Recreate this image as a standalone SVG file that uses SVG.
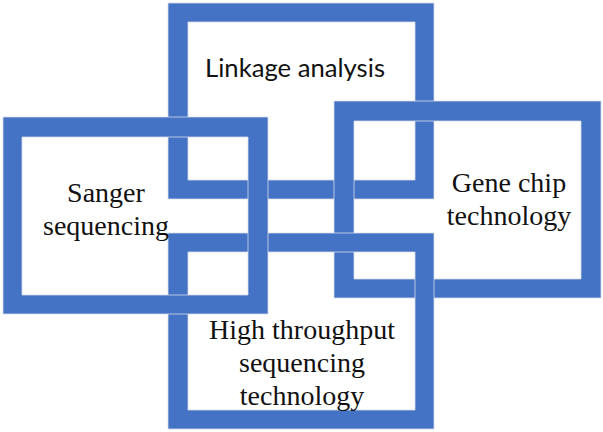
<svg xmlns="http://www.w3.org/2000/svg" width="603" height="432" viewBox="0 0 603 432">
<style>
.frame{fill:#4472C4;fill-rule:evenodd;stroke:#d6dcea;stroke-width:0.8}
.serif{font-family:"Liberation Serif","Times New Roman",serif;font-size:28px;fill:#111;text-anchor:middle}
.sans{font-family:Lato,"Open Sans","Liberation Sans",sans-serif;font-size:25px;fill:#111;text-anchor:middle}
</style>
<rect width="603" height="432" fill="#fff"/>
<g id="linkage">
<path class="frame" d="M168,3H434V199H168Z M188,22H415V180H188Z"/>
<text class="sans" x="295" y="77" textLength="180" lengthAdjust="spacingAndGlyphs">Linkage analysis</text>
</g>
<g id="gene-chip">
<path class="frame" d="M334,101H601V298H334Z M354,121H581V279H354Z"/>
<text class="serif" x="509" y="192">Gene chip</text>
<text class="serif" x="509" y="225">technology</text>
</g>
<g id="high-throughput">
<path class="frame" d="M168,233H434V429H168Z M188,252H415V410H188Z"/>
<text class="serif" x="302" y="339">High throughput</text>
<text class="serif" x="302" y="372">sequencing</text>
<text class="serif" x="302" y="405">technology</text>
</g>
<g id="sanger">
<path class="frame" d="M3,117H268V314H3Z M22,137H248V295H22Z"/>
<text class="serif" x="106" y="202">Sanger</text>
<text class="serif" x="106" y="235">sequencing</text>
</g>
</svg>
